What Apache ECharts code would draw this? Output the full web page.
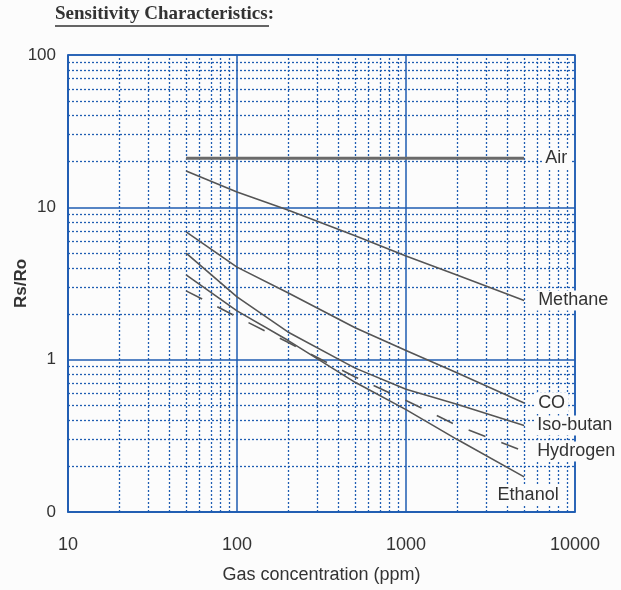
<!DOCTYPE html>
<html><head><meta charset="utf-8">
<script src="https://cdn.jsdelivr.net/npm/echarts@6/dist/echarts.min.js"></script>
<style>html,body{margin:0;padding:0;background:#fcfcfc}#c{width:621px;height:590px}</style>
</head><body><div id="c"></div>
<script>
// ---- data ----
const concentrations = [50, 100, 200, 500, 1000, 2000, 5000];
const air      = [21, 21, 21, 21, 21, 21, 21];
const methane  = [17.3, 12.6, 9.6, 6.5, 4.8, 3.6, 2.45];
const co       = [6.9, 4.05, 2.75, 1.62, 1.15, 0.82, 0.52];
const isobutan = [5.0, 2.58, 1.52, 0.88, 0.64, 0.51, 0.37];
const hydrogen = [2.83, 1.91, 1.30, 0.77, 0.54, 0.37, 0.25];
const ethanol  = [3.6, 2.09, 1.34, 0.71, 0.47, 0.30, 0.17];
const seriesNames = ['Air', 'Methane', 'CO', 'Iso-butan', 'Hydrogen', 'Ethanol'];
const xDecades = [10, 100, 1000];
const yDecades = [0.1, 1, 10];
const minorSteps = [2, 3, 4, 5, 6, 7, 8, 9];

const BLUE = '#1f5db2';
const INK = '#333333';
const FONT = "'Liberation Sans', Arial, sans-serif";

const minorX = [];
xDecades.forEach(d => minorSteps.forEach(k => minorX.push(d * k)));
const minorY = [];
yDecades.forEach(d => minorSteps.forEach(k => minorY.push(+(d * k).toPrecision(3))));

const labelBase = {
  show: true, formatter: '{a}', color: INK, fontFamily: FONT, fontSize: 18,
  backgroundColor: '#fcfcfc', padding: [1, 3, 1, 3], position: 'right'
};
function build(values, labelCfg) {
  return concentrations.map((c, i) =>
    i === concentrations.length - 1
      ? { value: [c, values[i]], label: Object.assign({}, labelBase, labelCfg) }
      : [c, values[i]]);
}
function curve(name, values, labelCfg, style) {
  return {
    name: name, type: 'line', data: build(values, labelCfg),
    symbol: 'circle', symbolSize: 0, showSymbol: true, z: 5,
    lineStyle: Object.assign({ color: '#555', width: 1.6 }, style || {}),
    itemStyle: { color: '#555' },
    label: { show: false }, emphasis: { disabled: true }, animation: false
  };
}

const chart = echarts.init(document.getElementById('c'), null, { renderer: 'canvas' });
chart.setOption({
  backgroundColor: '#fcfcfc',
  animation: false,
  title: {
    text: 'Sensitivity Characteristics:', left: 55, top: 5, padding: 0,
    textStyle: { fontFamily: "'Liberation Serif', 'Times New Roman', serif", fontWeight: 'bold', fontSize: 19, color: INK }
  },
  graphic: [{
    type: 'line', shape: { x1: 55, y1: 26, x2: 269, y2: 26 },
    style: { stroke: INK, lineWidth: 1.5 }, silent: true
  }],
  grid: {
    left: 68, right: 46, top: 55, bottom: 78, containLabel: false, outerBoundsMode: 'none',
    show: true, borderColor: BLUE, borderWidth: 1.5, backgroundColor: 'transparent'
  },
  xAxis: {
    type: 'log', logBase: 10, min: 10, max: 10000,
    name: 'Gas concentration (ppm)', nameLocation: 'middle', nameGap: 54, nameMoveOverlap: false,
    nameTextStyle: { fontFamily: FONT, fontSize: 18, color: INK },
    axisLine: { show: true, lineStyle: { color: BLUE, width: 1.5 } },
    axisTick: { show: false },
    axisLabel: {
      fontFamily: FONT, fontSize: 18, color: INK, margin: 24, showMinLabel: true, showMaxLabel: true,
      formatter: v => String(Math.round(v))
    },
    splitLine: { show: true, lineStyle: { color: BLUE, width: 1.5, type: 'solid' } }
  },
  yAxis: {
    type: 'log', logBase: 10, min: 0.1, max: 100,
    name: 'Rs/Ro', nameLocation: 'middle', nameGap: 38, nameRotate: 90, nameMoveOverlap: false,
    nameTextStyle: { fontFamily: FONT, fontSize: 17, fontWeight: 'bold', color: INK },
    axisLine: { show: true, lineStyle: { color: BLUE, width: 1.5 } },
    axisTick: { show: false },
    axisLabel: {
      fontFamily: FONT, fontSize: 17, color: INK, margin: 12, showMinLabel: true, showMaxLabel: true,
      formatter: v => (v < 1 ? '0' : String(Math.round(v)))
    },
    splitLine: { show: true, lineStyle: { color: BLUE, width: 1.5, type: 'solid' } }
  },
  series: [
    {
      name: 'grid', type: 'line', data: [], z: 1, silent: true, animation: false,
      markLine: {
        silent: true, symbol: ['none', 'none'], animation: false,
        label: { show: false },
        lineStyle: { color: BLUE, width: 1.3, type: [2, 2] },
        emphasis: { disabled: true },
        data: minorX.map(v => ({ xAxis: v })).concat(minorY.map(v => ({ yAxis: v })))
      }
    },
    curve('Air', air, { distance: 18 }, { color: '#6a6a6a', width: 3 }),
    curve('Methane', methane, { distance: 11 }),
    curve('CO', co, { distance: 11 }),
    curve('Iso-butan', isobutan, { distance: 10 }),
    curve('Hydrogen', hydrogen, { distance: 10 }, { type: [18, 17] }),
    curve('Ethanol', ethanol, { position: 'bottom', distance: 8, offset: [4, 0] })
  ]
});
</script>
</body></html>
